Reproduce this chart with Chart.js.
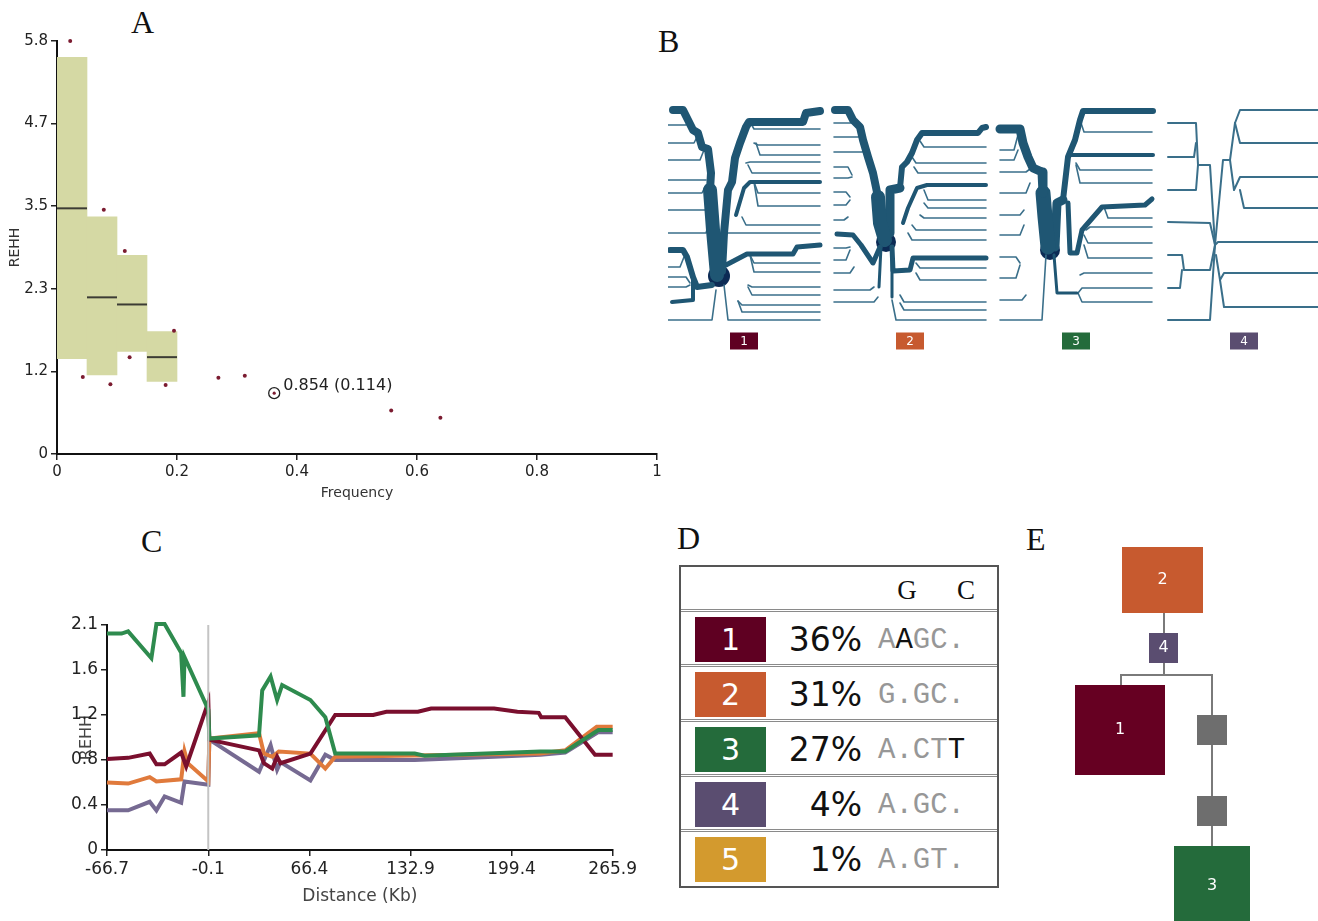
<!DOCTYPE html>
<html>
<head>
<meta charset="utf-8">
<script src="https://cdn.jsdelivr.net/npm/chart.js@4.4.1/dist/chart.umd.min.js"></script>
<style>
  body { margin: 0; background: #fff; width: 1318px; height: 921px; position: relative; overflow: hidden; font-family: 'DejaVu Sans', sans-serif; }
  .box { position: absolute; }
  .letter { position: absolute; font-family: 'Liberation Serif', 'DejaVu Serif', serif; font-size: 32px; line-height: 1; color: #111; }
  #tableD { position: absolute; left: 679px; top: 565px; width: 320px; height: 323px; border: 2px solid #555; box-sizing: border-box; }
  #tableD div { position: absolute; }
</style>
</head>
<body>
<div class="letter" style="left:131px;top:6px">A</div>
<div class="letter" style="left:658px;top:25px">B</div>
<div class="letter" style="left:141px;top:525px">C</div>
<div class="letter" style="left:677px;top:522px">D</div>
<div class="letter" style="left:1026px;top:523px">E</div>

<div class="box" style="left:0;top:0;width:670px;height:510px"><canvas id="chartA"></canvas></div>
<div class="box" style="left:668px;top:105px;width:650px;height:250px"><canvas id="chartB"></canvas></div>
<div class="box" style="left:40px;top:600px;width:600px;height:321px"><canvas id="chartC"></canvas></div>
<div id="tableD"></div>
<div class="box" style="left:1030px;top:520px;width:288px;height:401px"><canvas id="chartE"></canvas></div>

<script>
// ---- haplotypes (shared by B, C, D, E)
const hapIds = ['1', '2', '3', '4', '5'];
const hapFreq = ['36%', '31%', '27%', '4%', '1%'];
const hapSeq = ['AAGC.', 'G.GC.', 'A.CTT', 'A.GC.', 'A.GT.'];
const hapMark = [[1], [], [4], [], []]; // letters shown in black
const hapColors = ['#5f0022', '#c75a2f', '#246b3b', '#5a4d70', '#d39a2e'];
const seqHeader = [['G', 226], ['C', 285]];

// ---- panel A: REHH against core frequency
const freqPoints = [0.022, 0.043, 0.078, 0.089, 0.113, 0.121, 0.181, 0.195, 0.269, 0.313, 0.557, 0.639];
const rehhPoints = [5.8, 1.08, 3.43, 0.98, 2.85, 1.36, 0.97, 1.73, 1.07, 1.10, 0.61, 0.51];
const coreFreq = 0.362;
const coreRehh = 0.854;
const coreNote = '0.854 (0.114)';
const binStart = [0, 0.05, 0.1, 0.15];
const binEnd = [0.05, 0.1, 0.15, 0.2];
const binLow = [1.34, 1.11, 1.44, 1.02];
const binHigh = [5.57, 3.33, 2.79, 1.72];
const binMedian = [3.45, 2.2, 2.1, 1.36];
const xTickValsA = [0, 0.2, 0.4, 0.6, 0.8, 1];
const xTicksA = ['0', '0.2', '0.4', '0.6', '0.8', '1'];
const yTickValsA = [0, 1.16, 2.32, 3.48, 4.64, 5.8];
const yTicksA = ['0', '1.2', '2.3', '3.5', '4.7', '5.8'];

// ---- panel C: REHH along the region, one line per haplotype
const distRed = [-66.7, -52.8, -38.6, -34.2, -28.8, -17.9, -14.6, -0.05, 0.6, 33.3, 36.5, 42.0, 45.2, 47.4, 67.1, 83.4, 108.4, 117.1, 137.8, 146.5, 187.9, 203.2, 217.3, 218.9, 234.7, 254.3, 265.9];
const rehhRed = [0.85, 0.86, 0.90, 0.80, 0.80, 0.91, 0.78, 1.38, 1.03, 0.93, 0.81, 0.76, 0.87, 0.81, 0.90, 1.26, 1.26, 1.29, 1.29, 1.32, 1.32, 1.29, 1.28, 1.24, 1.24, 0.89, 0.89];
const distGreen = [-66.7, -57.1, -52.8, -37.5, -34.2, -28.8, -17.9, -16.4, -15.7, -0.05, 0.6, 33.3, 35.4, 40.9, 45.2, 48.5, 67.1, 76.9, 83.4, 135.7, 142.2, 218.4, 234.7, 256.5, 265.9];
const rehhGreen = [2.02, 2.02, 2.04, 1.79, 2.11, 2.11, 1.84, 1.43, 1.80, 1.31, 1.04, 1.07, 1.49, 1.62, 1.40, 1.54, 1.40, 1.24, 0.90, 0.90, 0.88, 0.92, 0.92, 1.12, 1.12];
const distOrange = [-66.7, -52.8, -38.6, -34.2, -17.9, -15.7, -13.6, -0.05, 0.6, 33.3, 36.5, 42.0, 46.3, 67.1, 76.9, 83.4, 218.4, 234.7, 255.4, 265.9];
const rehhOrange = [0.63, 0.62, 0.68, 0.64, 0.66, 0.92, 0.81, 0.64, 1.04, 1.09, 0.90, 0.87, 0.92, 0.90, 0.76, 0.87, 0.90, 0.93, 1.15, 1.15];
const distPurple = [-66.7, -52.8, -38.6, -34.2, -28.8, -17.9, -15.7, -0.05, 0.6, 33.3, 40.9, 45.2, 47.4, 67.1, 76.9, 83.4, 135.7, 187.9, 218.4, 234.7, 256.5, 265.9];
const rehhPurple = [0.37, 0.37, 0.45, 0.37, 0.50, 0.44, 0.64, 0.61, 1.03, 0.73, 0.98, 0.75, 0.82, 0.65, 0.89, 0.84, 0.84, 0.87, 0.89, 0.91, 1.10, 1.10];
const coreDist = -0.1;
const xTickValsC = [-66.7, -0.1, 66.4, 132.9, 199.4, 265.9];
const xTicksC = ['-66.7', '-0.1', '66.4', '132.9', '199.4', '265.9'];
const yTickValsC = [0, 0.42, 0.84, 1.26, 1.68, 2.1];
const yTicksC = ['0', '0.4', '0.8', '1.2', '1.6', '2.1'];

// ---- panel B: bifurcation diagrams (local units, one panel = 152 wide)
const bPanelX = [0, 166, 332, 500];
const bThick = [
  [[8, 5,5, 15,5, 19,13, 25,25, 30,28, 34,42, 40,44, 43,68, 42,85],
   [14, 42,85, 45,125, 49,170],
   [8, 54,166, 56,128, 60,85, 64,77, 67,53, 72,38, 78,22, 81,17, 135,17, 138,8, 152,6],
   [4, 68,110, 76,83, 82,77, 152,77],
   [6, 44,180, 29,182, 25,172, 19,152, 15,145, 2,145],
   [4, 25,172, 25,195, 4,197],
   [5, 58,160, 79,149, 125,149, 129,142, 152,140]],
  [[8, 1,5, 14,5, 19,15, 26,22, 29,35, 34,52, 39,68, 44,92],
   [14, 44,92, 46,118, 51,135],
   [9, 56,128, 56,85, 66,83],
   [6, 66,83, 68,62, 73,57, 78,48, 83,35, 88,28, 144,28, 148,23, 152,22],
   [4, 69,118, 74,103, 83,83, 93,80, 152,80],
   [5, 46,142, 39,158, 27,140, 19,130, 3,129],
   [3, 47,142, 45,182],
   [5, 58,142, 59,166, 76,165, 79,153, 152,153],
   [3, 58,142, 58,192]],
  [[9, 0,24, 20,24, 23,38, 28,52, 33,63, 42,67, 43,88],
   [15, 43,88, 45,112, 48,142],
   [9, 55,142, 57,98, 63,95],
   [6, 63,95, 68,52, 75,35, 80,15, 83,6, 153,6],
   [4, 70,50, 153,50],
   [5, 68,98, 70,148, 77,148, 82,125, 102,102, 145,100, 152,94],
   [3, 54,150, 57,188, 77,188]],
  [[2, 47,140, 55,55, 62,55, 67,18, 72,5, 152,5],
   [2, 67,18, 72,38, 152,38],
   [2, 62,55, 66,85, 72,72, 152,72],
   [2, 72,85, 76,103, 152,103],
   [2, 47,140, 50,137, 152,137],
   [2, 48,150, 52,175, 56,168, 152,168],
   [2, 52,175, 56,202, 152,202],
   [2, 47,140, 42,60, 30,60, 28,18, 0,18],
   [2, 28,38, 26,52, 0,52],
   [2, 30,60, 28,85, 0,85],
   [2, 47,140, 42,118, 0,117],
   [2, 47,140, 42,165, 16,165, 14,150, 0,150],
   [2, 14,165, 12,183, 0,183],
   [2, 47,140, 42,215, 0,215]]
];
// thin leaves: [split x, parent y, leaf y]
const bThinR = [
  [[82,17,24],[86,38,40],[88,38,50],[78,58,57],[80,60,68],[86,77,88],[86,77,101],[74,112,120],[60,128,128],[82,150,158],[82,150,167],[80,180,182],[80,182,190],[70,196,200],[70,196,207],[56,180,215]],
  [[86,36,42],[78,52,58],[80,62,68],[90,85,95],[90,98,103],[86,110,113],[78,120,125],[74,128,135],[82,158,163],[82,168,175],[66,190,197],[66,198,205],[58,195,215]],
  [[80,15,27],[76,58,65],[76,60,78],[104,102,113],[86,125,122],[84,130,138],[84,140,153],[80,170,168],[78,188,183],[78,188,197]],
  []
];
const bThinL = [
  [[22,15,20],[30,30,38],[36,45,55],[38,75,75],[38,80,88],[42,110,105],[42,115,128],[16,152,162],[22,178,172],[22,180,182],[48,185,215]],
  [[22,18,18],[28,30,32],[32,45,47],[18,70,62],[18,72,73],[16,92,87],[16,95,100],[14,112,115],[16,142,143],[16,145,155],[20,162,168],[40,182,185],[44,192,197]],
  [[18,30,45],[18,45,55],[30,64,67],[30,78,88],[24,105,110],[24,120,130],[20,158,152],[20,160,173],[26,190,195],[46,150,215]],
  []
];
const bCore = [[51, 171, 11], [52, 137, 10], [50, 145, 10], null];
const bLabelCx = 76;
const bLabelY = 236;

// ---- panel E: haplotype network
const treeLabels = ['2', '4', '1', '', '', '3'];
const treeColors = [hapColors[1], hapColors[3], '#660022', '#6e6e6e', '#6e6e6e', hapColors[2]];
const treeCx = [132.5, 133.5, 90, 182, 182, 182];
const treeCy = [60, 128, 210, 210, 291, 366];
const treeW = [81, 29, 90, 30, 30, 76];
const treeH = [66, 30, 90, 30, 30, 80];
const treeEdges = [
  [[134, 93], [134, 113]],
  [[134, 143], [134, 155], [91, 155], [91, 165]],
  [[134, 155], [182, 155], [182, 195]],
  [[182, 225], [182, 276]],
  [[182, 306], [182, 326]]
];

Chart.defaults.font.family = "'DejaVu Sans', 'Liberation Sans', sans-serif";
Chart.defaults.color = '#222';
Chart.defaults.animation = false;
Chart.defaults.plugins.legend.display = false;
Chart.defaults.plugins.tooltip.enabled = false;

const fixedTicks = values => scale => { scale.ticks = values.map(v => ({ value: v })); };
const axisGrid = { drawOnChartArea: false, drawTicks: true, tickLength: 6, color: '#222', lineWidth: 1.5 };
const axisBorder = { display: true, color: '#111', width: 2 };

// ---------------- A
const noteA = {
  id: 'noteA',
  afterDatasetsDraw(chart) {
    const { ctx, scales: { x, y } } = chart;
    ctx.save();
    ctx.font = "16px 'DejaVu Sans'";
    ctx.fillStyle = '#222';
    ctx.textBaseline = 'middle';
    ctx.fillText(coreNote, x.getPixelForValue(coreFreq) + 9, y.getPixelForValue(coreRehh) - 7);
    ctx.restore();
  }
};

new Chart(document.getElementById('chartA'), {
  type: 'bar',
  data: {
    datasets: [
      {
        type: 'bar',
        data: binStart.map((s, i) => ({ x: (s + binEnd[i]) / 2, y: [binLow[i], binHigh[i]] })),
        backgroundColor: '#d5d9a4',
        barPercentage: 1,
        categoryPercentage: 1,
        grouped: false,
        order: 5
      },
      ...binMedian.map((m, i) => ({
        type: 'line',
        data: [{ x: binStart[i], y: m }, { x: binEnd[i], y: m }],
        borderColor: '#3c3c34',
        borderWidth: 2,
        pointRadius: 0,
        order: 3
      })),
      {
        type: 'scatter',
        data: freqPoints.map((f, i) => ({ x: f, y: rehhPoints[i] })),
        pointRadius: 2,
        pointBackgroundColor: '#7b1b30',
        pointBorderWidth: 0,
        clip: false,
        order: 1
      },
      {
        type: 'scatter',
        data: [{ x: coreFreq, y: coreRehh }],
        pointRadius: 5.5,
        pointBackgroundColor: 'rgba(0,0,0,0)',
        pointBorderColor: '#222',
        pointBorderWidth: 1.3,
        order: 0
      },
      {
        type: 'scatter',
        data: [{ x: coreFreq, y: coreRehh }],
        pointRadius: 1.6,
        pointBackgroundColor: '#7b1b30',
        pointBorderWidth: 0,
        order: 0
      }
    ]
  },
  options: {
    responsive: true,
    maintainAspectRatio: false,
    layout: { padding: { left: 0, right: 13, top: 41, bottom: 0 } },
    scales: {
      x: {
        type: 'linear', min: 0, max: 1, offset: false,
        afterBuildTicks: fixedTicks(xTickValsA),
        afterFit: s => { s.height = 56; },
        ticks: { callback: (v, i) => xTicksA[i], font: { size: 15 }, padding: 3, maxRotation: 0, autoSkip: false },
        grid: { ...axisGrid, offset: false },
        border: axisBorder,
        title: { display: true, text: 'Frequency', font: { size: 14 }, color: '#333', padding: { top: 0, bottom: 8 } }
      },
      y: {
        type: 'linear', min: 0, max: 5.8,
        afterBuildTicks: fixedTicks(yTickValsA),
        afterFit: s => { s.width = 57; },
        ticks: { callback: (v, i) => yTicksA[i], font: { size: 15 }, padding: 3, autoSkip: false },
        grid: axisGrid,
        border: axisBorder,
        title: { display: true, text: 'REHH', font: { size: 14 }, color: '#333', padding: { top: 7, bottom: 0 } }
      }
    }
  },
  plugins: [noteA]
});

// ---------------- B
const bDatasets = [];
const thickColor = '#1f5673';
const thinColor = '#3a6f8a';
bPanelX.forEach((dx, p) => {
  bThick[p].forEach(line => {
    const pts = [];
    for (let k = 1; k < line.length; k += 2) pts.push({ x: line[k] + dx, y: line[k + 1] });
    bDatasets.push({ data: pts, borderColor: line[0] <= 2 ? thinColor : thickColor, borderWidth: line[0] });
  });
  bThinR[p].forEach(([xs, yp, yl]) => {
    bDatasets.push({ data: [{ x: xs + dx, y: yp }, { x: xs + 4 + dx, y: yl }, { x: 152 + dx, y: yl }], borderColor: thinColor, borderWidth: 1.6 });
  });
  bThinL[p].forEach(([xs, yp, yl]) => {
    bDatasets.push({ data: [{ x: xs + dx, y: yp }, { x: xs - 4 + dx, y: yl }, { x: dx, y: yl }], borderColor: thinColor, borderWidth: 1.6 });
  });
  if (bCore[p]) {
    bDatasets.push({ type: 'scatter', data: [{ x: bCore[p][0] + dx, y: bCore[p][1] }], pointRadius: bCore[p][2], pointBackgroundColor: '#0c2b55', pointBorderWidth: 0 });
  }
});
bDatasets.forEach(d => {
  d.pointRadius = d.pointRadius || 0;
  d.borderJoinStyle = 'round';
  d.borderCapStyle = 'round';
  d.clip = false;
});

const bLabels = {
  id: 'bLabels',
  afterDatasetsDraw(chart) {
    const { ctx, scales: { x, y } } = chart;
    ctx.save();
    ctx.font = "12px 'DejaVu Sans'";
    ctx.textAlign = 'center';
    ctx.textBaseline = 'middle';
    bPanelX.forEach((dx, i) => {
      const cx = x.getPixelForValue(dx + bLabelCx);
      const cy = y.getPixelForValue(bLabelY);
      ctx.fillStyle = hapColors[i];
      ctx.fillRect(cx - 14, cy - 8.5, 28, 17);
      ctx.fillStyle = '#fff';
      ctx.fillText(hapIds[i], cx, cy + 1);
    });
    ctx.restore();
  }
};

new Chart(document.getElementById('chartB'), {
  type: 'line',
  data: { datasets: bDatasets },
  options: {
    responsive: true,
    maintainAspectRatio: false,
    layout: { padding: 0, autoPadding: false },
    scales: {
      x: { type: 'linear', min: 0, max: 650, display: false },
      y: { type: 'linear', min: 0, max: 250, reverse: true, display: false }
    }
  },
  plugins: [bLabels]
});

// ---------------- C
const lineC = (xs, ys, color) => ({
  data: xs.map((d, i) => ({ x: d, y: ys[i] })),
  borderColor: color,
  borderWidth: 4,
  pointRadius: 0,
  clip: false
});

new Chart(document.getElementById('chartC'), {
  type: 'line',
  data: {
    datasets: [
      { data: [{ x: coreDist, y: 0 }, { x: coreDist, y: 2.1 }], borderColor: '#c4c4c4', borderWidth: 2, pointRadius: 0 },
      lineC(distGreen, rehhGreen, '#2e8b4e'),
      lineC(distRed, rehhRed, '#7a0f2e'),
      lineC(distOrange, rehhOrange, '#e07a3c'),
      lineC(distPurple, rehhPurple, '#766a92')
    ]
  },
  options: {
    responsive: true,
    maintainAspectRatio: false,
    layout: { padding: { left: 0, right: 24, top: 25, bottom: 0 } },
    scales: {
      x: {
        type: 'linear', min: -66.7, max: 265.9,
        afterBuildTicks: fixedTicks(xTickValsC),
        afterFit: s => { s.height = 71; },
        ticks: { callback: (v, i) => xTicksC[i], font: { size: 17 }, padding: 3, maxRotation: 0, autoSkip: false },
        grid: axisGrid,
        border: axisBorder,
        title: { display: true, text: 'Distance (Kb)', font: { size: 17 }, color: '#444', padding: { top: 0, bottom: 14 } }
      },
      y: {
        type: 'linear', min: 0, max: 2.1,
        afterBuildTicks: fixedTicks(yTickValsC),
        afterFit: s => { s.width = 67; },
        ticks: { callback: (v, i) => yTicksC[i], font: { size: 17 }, padding: 3, autoSkip: false },
        grid: axisGrid,
        border: axisBorder,
        title: { display: true, text: 'REHH', font: { size: 16 }, color: '#444', padding: { top: 37, bottom: 0 } }
      }
    }
  }
});

// ---------------- D
const tableD = document.getElementById('tableD');
seqHeader.forEach(([ch, cx]) => {
  const h = document.createElement('div');
  h.textContent = ch;
  h.style.cssText = "left:" + (cx - 12) + "px;top:8px;width:24px;text-align:center;font:27px 'Liberation Serif',serif;color:#111;line-height:30px";
  tableD.appendChild(h);
});
hapIds.forEach((id, i) => {
  const top = 42 + i * 55;
  const sep = document.createElement('div');
  sep.style.cssText = 'left:0;right:0;top:' + top + 'px;height:0;border-top:3px double #8a8a8a';
  tableD.appendChild(sep);
  const sw = document.createElement('div');
  sw.textContent = id;
  sw.style.cssText = 'left:14px;top:' + (top + 8) + 'px;width:71px;height:45px;background:' + hapColors[i] +
    ";color:#fff;font:30px 'DejaVu Sans',sans-serif;line-height:46px;text-align:center";
  tableD.appendChild(sw);
  const pc = document.createElement('div');
  pc.textContent = hapFreq[i];
  pc.style.cssText = 'left:70px;top:' + (top + 3) + "px;width:111px;text-align:right;font:33px 'DejaVu Sans',sans-serif;line-height:55px;color:#111";
  tableD.appendChild(pc);
  const sq = document.createElement('div');
  sq.style.cssText = 'left:197px;top:' + (top + 4) + "px;font:29px 'Liberation Mono',monospace;line-height:55px;color:#979797;white-space:pre";
  sq.innerHTML = hapSeq[i].split('').map((c, k) => hapMark[i].includes(k) ? '<span style="color:#111">' + c + '</span>' : c).join('');
  tableD.appendChild(sq);
});

// ---------------- E
const treeBoxes = {
  id: 'treeBoxes',
  afterDatasetsDraw(chart) {
    const { ctx, scales: { x, y } } = chart;
    ctx.save();
    ctx.font = "16px 'DejaVu Sans'";
    ctx.textAlign = 'center';
    ctx.textBaseline = 'middle';
    treeLabels.forEach((lab, i) => {
      const x0 = x.getPixelForValue(treeCx[i] - treeW[i] / 2);
      const x1 = x.getPixelForValue(treeCx[i] + treeW[i] / 2);
      const y0 = y.getPixelForValue(treeCy[i] - treeH[i] / 2);
      const y1 = y.getPixelForValue(treeCy[i] + treeH[i] / 2);
      ctx.fillStyle = treeColors[i];
      ctx.fillRect(x0, y0, x1 - x0, y1 - y0);
      if (lab) {
        ctx.fillStyle = '#fff';
        ctx.fillText(lab, (x0 + x1) / 2, (y0 + y1) / 2);
      }
    });
    ctx.restore();
  }
};

new Chart(document.getElementById('chartE'), {
  type: 'line',
  data: {
    datasets: treeEdges.map(e => ({
      data: e.map(([px, py]) => ({ x: px, y: py })),
      borderColor: '#7a7a7a',
      borderWidth: 2,
      pointRadius: 0
    }))
  },
  options: {
    responsive: true,
    maintainAspectRatio: false,
    layout: { padding: 0, autoPadding: false },
    scales: {
      x: { type: 'linear', min: 0, max: 288, display: false },
      y: { type: 'linear', min: 0, max: 401, reverse: true, display: false }
    }
  },
  plugins: [treeBoxes]
});
</script>
</body>
</html>
